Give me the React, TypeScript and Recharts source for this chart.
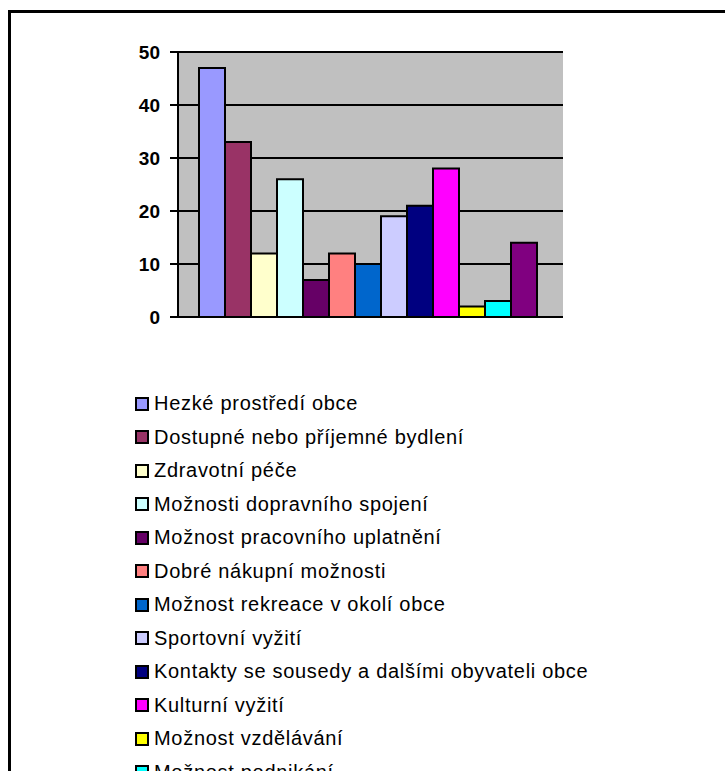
import React from 'react'
import { BarChart, Bar, XAxis, YAxis, CartesianGrid } from 'recharts'

const category = ['Důvody']

const seriesNames = [
   'Hezké prostředí obce',
   'Dostupné nebo příjemné bydlení',
   'Zdravotní péče',
   'Možnosti dopravního spojení',
   'Možnost pracovního uplatnění',
   'Dobré nákupní možnosti',
   'Možnost rekreace v okolí obce',
   'Sportovní vyžití',
   'Kontakty se sousedy a dalšími obyvateli obce',
   'Kulturní vyžití',
   'Možnost vzdělávání',
   'Možnost podnikání',
   'Jiné',
]

const seriesValues = [47, 33, 12, 26, 7, 12, 10, 19, 21, 28, 2, 3, 14]

const seriesColors = [
   '#9999FF', '#993366', '#FFFFCC', '#CCFFFF', '#660066', '#FF8080', '#0066CC',
   '#CCCCFF', '#000080', '#FF00FF', '#FFFF00', '#00FFFF', '#800080',
]

const yTicks = [0, 10, 20, 30, 40, 50]

const data = category.map((name) => {
   const row: Record<string, string | number> = { name }
   seriesNames.forEach((s, i) => { row['s' + i] = seriesValues[i] })
   return row
})

const font = 'Arial, "Liberation Sans", sans-serif'

function LegendList() {
   return (
      <div style={{ fontFamily: font, fontSize: 20, letterSpacing: 0.7, color: '#000' }}>
         {seriesNames.map((name, i) => (
            <div key={name} style={{ height: 33.5, display: 'flex', alignItems: 'center', whiteSpace: 'nowrap' }}>
               <span style={{ width: 10, height: 10, border: '2px solid #000', background: seriesColors[i], marginRight: 5, flexShrink: 0 }} />
               {name}
            </div>
         ))}
      </div>
   )
}

export default function App() {
   return (
      <div style={{ position: 'absolute', left: 0, top: 0, width: 725, height: 771, overflow: 'hidden', background: '#fff' }}>
         <div style={{ position: 'absolute', left: 8, top: 10, width: 760, height: 820, borderLeft: '3px solid #000', borderTop: '3px solid #000' }} />
         <div style={{ position: 'absolute', left: 0, top: 0 }}>
            <BarChart
               width={725}
               height={340}
               data={data}
               margin={{ top: 52, right: 162, left: 118, bottom: 3 }}
               barCategoryGap={21}
               barGap={0}
            >
               <CartesianGrid
                  xAxisId="edge"
                  yAxisId="y"
                  vertical={false}
                  fill="#C0C0C0"
                  fillOpacity={1}
                  stroke="#000"
                  strokeWidth={2}
               />
               <XAxis xAxisId="cat" dataKey="name" hide />
               <XAxis
                  xAxisId="top"
                  orientation="top"
                  type="number"
                  domain={[0, 1]}
                  height={0}
                  tick={false}
                  tickLine={false}
                  axisLine={{ stroke: '#808080', strokeWidth: 2 }}
               />
               <XAxis
                  xAxisId="edge"
                  type="number"
                  domain={[0, 1]}
                  ticks={[0, 1]}
                  tick={false}
                  height={20}
                  tickSize={9}
                  axisLine={{ stroke: '#000', strokeWidth: 2 }}
                  tickLine={{ stroke: '#000', strokeWidth: 2 }}
               />
               <YAxis
                  yAxisId="r"
                  orientation="right"
                  domain={[0, 50]}
                  width={0}
                  tick={false}
                  tickLine={false}
                  axisLine={{ stroke: '#808080', strokeWidth: 2 }}
               />
               <YAxis
                  yAxisId="y"
                  domain={[0, 50]}
                  ticks={yTicks}
                  interval={0}
                  width={60}
                  tickSize={8}
                  tickMargin={10}
                  axisLine={{ stroke: '#000', strokeWidth: 2 }}
                  tickLine={{ stroke: '#000', strokeWidth: 2 }}
                  tick={{ fill: '#000', fontSize: 19, fontWeight: 'bold', fontFamily: font }}
               />
               {seriesNames.map((name, i) => (
                  <Bar
                     key={name}
                     xAxisId="cat"
                     yAxisId="y"
                     dataKey={'s' + i}
                     name={name}
                     fill={seriesColors[i]}
                     stroke="#000"
                     strokeWidth={2}
                     isAnimationActive={false}
                  />
               ))}
            </BarChart>
         </div>
         <div style={{ position: 'absolute', left: 135, top: 387, width: 580 }}>
            <LegendList />
         </div>
      </div>
   )
}
